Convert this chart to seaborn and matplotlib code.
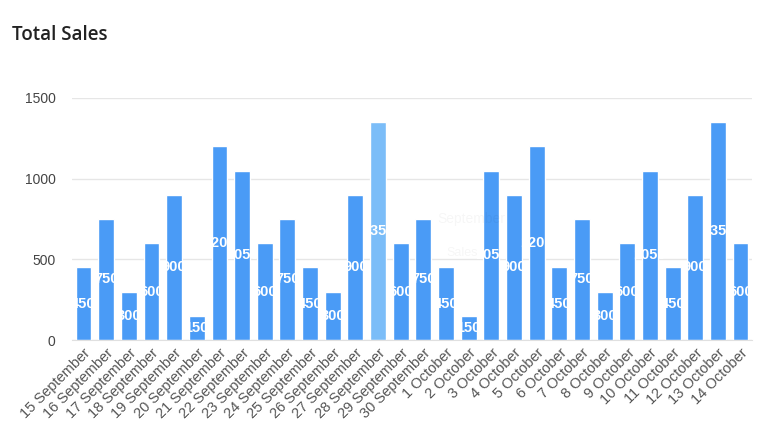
import seaborn as sns
import numpy as np
import pandas as pd
import matplotlib.pyplot as plt

days = ['15 September', '16 September', '17 September', '18 September', '19 September',
        '20 September', '21 September', '22 September', '23 September', '24 September',
        '25 September', '26 September', '27 September', '28 September', '29 September',
        '30 September', '1 October', '2 October', '3 October', '4 October', '5 October',
        '6 October', '7 October', '8 October', '9 October', '10 October', '11 October',
        '12 October', '13 October', '14 October']
sales = [450, 750, 300, 600, 900, 150, 1200, 1050, 600, 750, 450, 300, 900, 1350, 600,
         750, 450, 150, 1050, 900, 1200, 450, 750, 300, 600, 1050, 450, 900, 1350, 600]
highlight = '28 September'

df = pd.DataFrame({'day': days, 'sales': sales})

sns.set_style('white')
plt.rcParams['font.family'] = ['Liberation Sans', 'DejaVu Sans']

fig = plt.figure(figsize=(7.68, 4.43), dpi=100)
ax = fig.add_axes([0.094, 0.2325, 0.885, 0.5465])

colors = ['#7bbdf8' if d == highlight else '#4a9bf6' for d in days]
sns.barplot(data=df, x='day', y='sales', hue='day', palette=colors, legend=False,
            width=0.7, saturation=1, ax=ax, zorder=2)

ax.set_ylim(0, 1500)
ax.set_xlim(-0.5, len(days) - 0.5)
ax.set_yticks([0, 500, 1000, 1500])
ax.yaxis.grid(True, color='#e6e6e6', linewidth=1, zorder=0)
ax.set_axisbelow(True)
for s in ['top', 'right', 'left']:
    ax.spines[s].set_visible(False)
ax.spines['bottom'].set_color('#e0e0e0')
ax.set_xlabel('')
ax.set_ylabel('')
ax.tick_params(axis='y', length=0, labelsize=10, labelcolor='#444444', pad=12)
ax.tick_params(axis='x', length=0, labelsize=10.5, labelcolor='#555555', pad=4)
ax.set_xticks(np.arange(-0.5, len(days), 1), minor=True)
ax.tick_params(axis='x', which='minor', length=5, color='#f0d8d8', width=1)
plt.setp(ax.get_xticklabels(), rotation=45, ha='right', rotation_mode='anchor')

# value labels inside bars, clipped to the bar
for patch, val in zip(ax.patches, sales):
    cx = patch.get_x() + patch.get_width() / 2
    t = ax.text(cx, val / 2, str(val), ha='center', va='center', color='white',
                fontsize=10.5, fontweight='bold', zorder=3)
    t.set_clip_path(patch)

# faint tooltip left behind
ax.text(15.6, 725, 'September', color='#000000', alpha=0.035, fontsize=10, zorder=4)
ax.text(16.0, 520, 'Sales', color='#000000', alpha=0.035, fontsize=9, zorder=4)

fig.text(0.016, 0.91, 'Total Sales', fontsize=13.5, color='#222222',
         family=['Open Sans', 'DejaVu Sans'], fontweight='semibold')

fig.savefig('out.png', dpi=100)
